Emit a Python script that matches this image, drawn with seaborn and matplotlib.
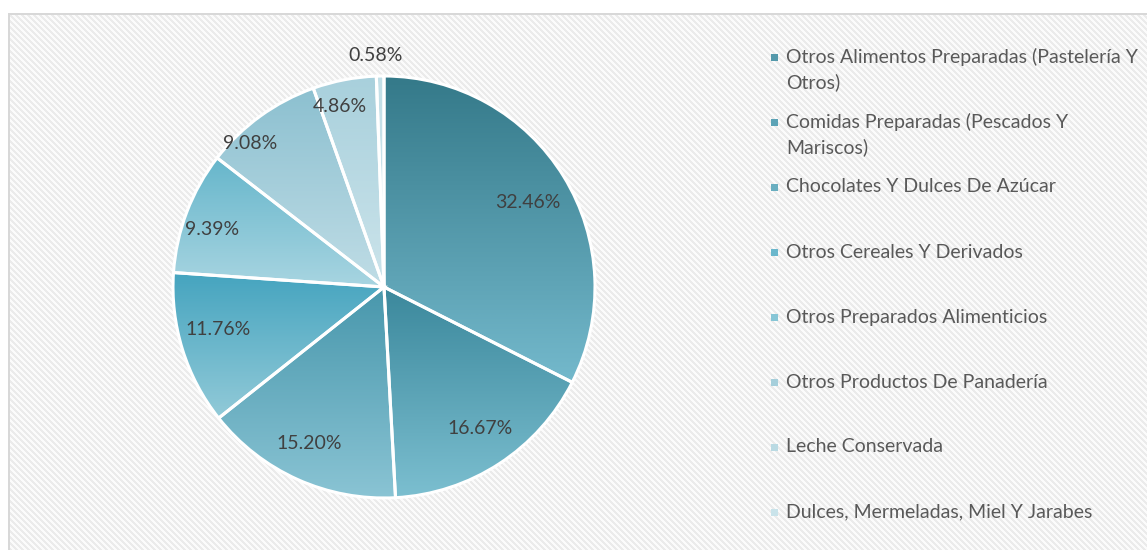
import numpy as np
import matplotlib
matplotlib.use("Agg")
import matplotlib.pyplot as plt
import seaborn as sns
from matplotlib.patches import Rectangle
from matplotlib.colors import to_rgb

categories = [
    "Otros Alimentos Preparadas (Pastelería Y\nOtros)",
    "Comidas Preparadas (Pescados Y\nMariscos)",
    "Chocolates Y Dulces De Azúcar",
    "Otros Cereales Y Derivados",
    "Otros Preparados Alimenticios",
    "Otros Productos De Panadería",
    "Leche Conservada",
    "Dulces, Mermeladas, Miel Y Jarabes",
]
shares = [32.46, 16.67, 15.20, 11.76, 9.39, 9.08, 4.86, 0.58]
pct_labels = ["32.46%", "16.67%", "15.20%", "11.76%", "9.39%", "9.08%", "4.86%", "0.58%"]

top_colors = ["#347989", "#3b889c", "#4897ac", "#45a4bf", "#66b6cb", "#8cc0d0", "#a8d0dc", "#c2dfe7"]
bottom_colors = ["#74b9cc", "#7cbfd0", "#8ac4d4", "#92cad8", "#a8d5e1", "#c0dde6", "#cce4eb", "#d0e6ed"]
label_dist = [0.79, 0.81, 0.82, 0.81, 0.86, 0.93, 0.88, 1.10]
label_angle_shift = [-1.2, 1.0, -1.2, -2.7, 2.5, 7.0, 2.9, 1.0]

sns.set_theme(style="white")
plt.rcParams["font.family"] = ["Lato", "DejaVu Sans"]

W, H = 1147, 550
fig = plt.figure(figsize=(W / 100, H / 100), dpi=100)
fig.patch.set_facecolor("white")

# striped background panel (decoration)
yy, xx = np.mgrid[0:H, 0:W]
stripes = np.where(((xx - yy) % 6) < 3, 0.925, 0.985)
stripes[:13, :] = 1.0
stripes[:, :8] = 1.0
stripes[13:15, 8:] = 0.85
stripes[13:, 8:10] = 0.85
bg_rgb = np.dstack([stripes] * 3)
fig.figimage(bg_rgb, xo=0, yo=0, origin="upper", zorder=0)

cx, cy, r = 384, 287, 211
lim = 1.02
R = r * lim
ax = fig.add_axes([(cx - R) / W, (H - cy - R) / H, 2 * R / W, 2 * R / H])
ax.set_zorder(2)
ax.set_facecolor("none")
ax.patch.set_alpha(0)
wedges, _ = ax.pie(shares, startangle=90, counterclock=False, radius=1,
                   colors=top_colors,
                   wedgeprops=dict(edgecolor="white", linewidth=2.2))
ax.set_aspect("equal")
ax.axis("off")

for w, c0, c1 in zip(wedges, top_colors, bottom_colors):
    ext = w.get_path().get_extents()
    n = 256
    t = np.linspace(0, 1, n)[:, None]
    a, b = np.array(to_rgb(c0)), np.array(to_rgb(c1))
    grad = (a[None, :] * (1 - t) + b[None, :] * t)[:, None, :]
    im = ax.imshow(grad, extent=[ext.x0, ext.x1, ext.y0, ext.y1], origin="upper",
                   aspect="auto", zorder=1, interpolation="bilinear")
    im.set_clip_path(w)
    w.set_facecolor("none")
    w.set_zorder(2)

ax.set_xlim(-lim, lim)
ax.set_ylim(-lim, lim)

for w, lab, d, s in zip(wedges, pct_labels, label_dist, label_angle_shift):
    mid = np.deg2rad((w.theta1 + w.theta2) / 2 + s)
    ax.text(d * np.cos(mid), d * np.sin(mid), lab, ha="center", va="center",
            fontsize=14, color="#404040", zorder=3)

# legend
for i, (cat, c0, c1) in enumerate(zip(categories, top_colors, bottom_colors)):
    y0 = 57 + 65 * i
    mc = (np.array(to_rgb(c0)) + np.array(to_rgb(c1))) / 2
    fig.add_artist(Rectangle(((775 - 3.5) / W, (H - y0 - 3.5) / H), 7 / W, 7 / H,
                             transform=fig.transFigure, facecolor=mc, edgecolor="none", zorder=3))
    for j, line in enumerate(cat.split("\n")):
        fig.text(786 / W, (H - (y0 + 25 * j)) / H, line, ha="left", va="center",
                 fontsize=14, color="#595959", zorder=3)

fig.savefig("out.png", dpi=100)
